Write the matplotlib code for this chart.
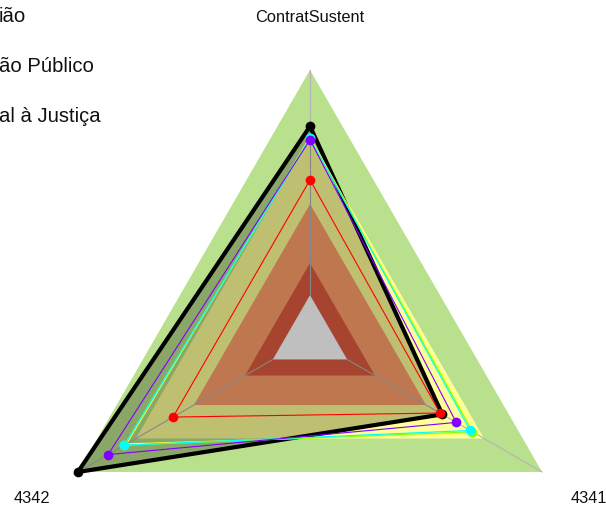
import numpy as np
import matplotlib
matplotlib.use("Agg")
import matplotlib.pyplot as plt

plt.rcParams["font.family"] = ["Liberation Sans", "DejaVu Sans"]

# axes, counter-clockwise from the top
axis_labels = ["ContratSustent", "4342", "4341"]

# background bands (outer radius of each level, relative to max)
band_levels = [1.0, 0.75, 0.5, 0.28, 0.16]
band_colors = ["#b9e08c", "#ffff99", "#ffa06b", "#e05c40", "#ffffff"]

# series values on [ContratSustent, 4342, 4341]
series_names = ["black", "yellow", "green", "cyan", "purple", "red"]
series_values = {
    "black": [0.79, 1.00, 0.57],
    "yellow": [0.75, 0.79, 0.71],
    "green": [0.745, 0.80, 0.70],
    "cyan": [0.745, 0.80, 0.69],
    "purple": [0.74, 0.87, 0.63],
    "red": [0.59, 0.59, 0.56],
}
series_colors = {
    "black": "#000000",
    "yellow": "#ffff40",
    "green": "#80ff00",
    "cyan": "#00ffff",
    "purple": "#8000ff",
    "red": "#ff0000",
}
series_markers = {"black": True, "yellow": False, "green": True,
                  "cyan": True, "purple": True, "red": True}

legend_texts = ["ião", "ão Público", "al à Justiça"]

angles = np.deg2rad(90 + 120 * np.arange(len(axis_labels)))


def to_xy(vals):
    vals = np.asarray(vals, dtype=float)
    x = vals * np.cos(angles)
    y = vals * np.sin(angles)
    return np.append(x, x[0]), np.append(y, y[0])


fig = plt.figure(figsize=(6.06, 5.12), dpi=100)
ax = fig.add_axes([0, 0, 1, 1])
scale = 268.0
ax.set_xlim(-310 / scale, (606 - 310) / scale)
ax.set_ylim(-(512 - 338) / scale, 338 / scale)
ax.set_aspect("equal")
ax.axis("off")

for lvl, col in zip(band_levels, band_colors):
    bx, by = to_xy([lvl] * len(axis_labels))
    ax.fill(bx, by, color=col, lw=0, zorder=1)

# radial axis lines start at the inner band
r0 = band_levels[-1]
for a in angles:
    ax.plot([r0 * np.cos(a), np.cos(a)], [r0 * np.sin(a), np.sin(a)],
            color="#b4b4b4", lw=0.8, zorder=2)

# black series has a translucent fill
fx, fy = to_xy(series_values["black"])
ax.fill(fx, fy, color="black", alpha=0.25, lw=0, zorder=3)

for i, name in enumerate(series_names):
    sx, sy = to_xy(series_values[name])
    lw = 3.0 if name == "black" else 0.8
    ax.plot(sx, sy, color=series_colors[name], lw=lw, zorder=4 + i,
            solid_joinstyle="miter")
    if series_markers[name]:
        ax.plot(sx[:-1], sy[:-1], "o", color=series_colors[name], ms=7,
                mec="none", zorder=4 + i)

for a, lab in zip(angles, axis_labels):
    ax.text(1.2 * np.cos(a), 1.195 * np.sin(a), lab, ha="center", va="center",
            fontsize=11.8, color="#111111")

for k, txt in enumerate(legend_texts):
    fig.text(-1 / 606, 1 - (17 + 50 * k) / 512, txt, ha="left", va="center",
             fontsize=14.6, color="#111111")

fig.savefig("out.png", dpi=100)
